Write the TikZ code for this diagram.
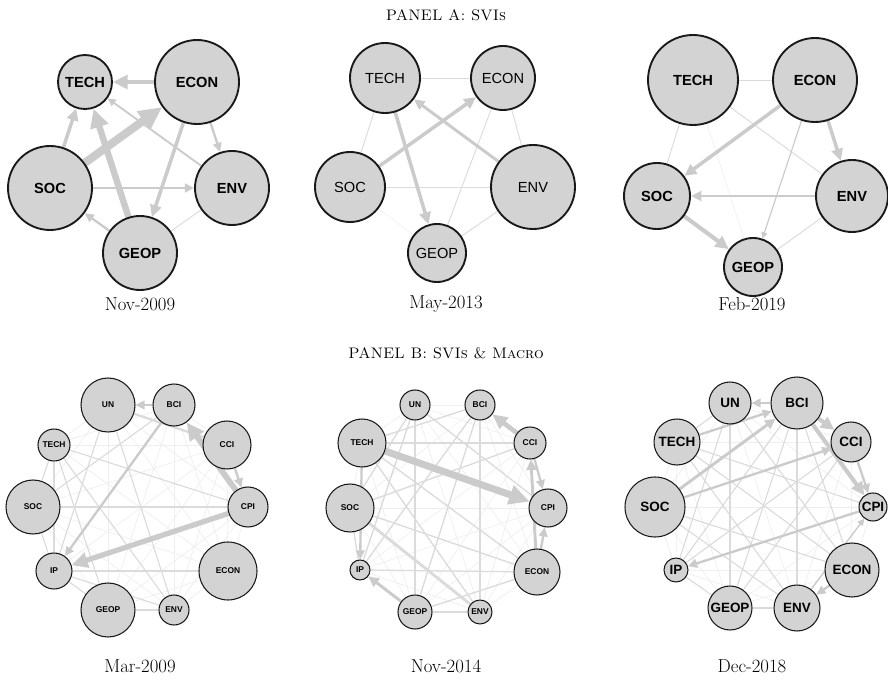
\documentclass[tikz,border=0pt]{standalone}
\usepackage{fontspec}
\newfontfamily\helv{Liberation Sans}
\usetikzlibrary{arrows.meta,backgrounds}
\definecolor{nodegray}{RGB}{211,211,211}
\definecolor{edgegray}{RGB}{203,203,203}
\definecolor{midgray}{RGB}{219,219,219}
\definecolor{faintgray}{RGB}{238,238,238}
\tikzset{
  var/.style={circle, draw=black!90, fill=nodegray, inner sep=0pt, minimum size=#1*0.06cm},
  varA/.style={var=#1, line width=1.6pt, font=\helv\bfseries\fontsize{12.5}{14}\selectfont},
  varAreg/.style={var=#1, line width=1.6pt, font=\helv\fontsize{12.5}{14}\selectfont},
  varB/.style={var=#1, line width=0.9pt, font=\helv\bfseries\fontsize{7.2}{8}\selectfont},
  varBbig/.style={var=#1, line width=0.9pt, font=\helv\bfseries\fontsize{11.5}{13}\selectfont},
  spill/.style={draw=edgegray, line width=#1, -{Triangle[length=3pt 2.4, width=3pt 2.2]}},
  tie/.style={draw=midgray, line width=#1},
  faint/.style={draw=faintgray, line width=0.6pt},
  caption/.style={font=\fontsize{16}{18}\selectfont},
  paneltitle/.style={font=\fontsize{13}{15}\selectfont\scshape\addfontfeature{LetterSpace=15}}
}
\begin{document}
\begin{tikzpicture}[x=0.03cm, y=-0.03cm]
	\useasboundingbox (0,0) rectangle (888,681);
	% Titles and dates:
	\node[paneltitle] (titleA) at (446,15) {PANEL A: SVIs};
	\node[paneltitle] (titleB) at (446,353) {PANEL B: SVIs \& Macro};
	\node[caption] (capA1) at (140,304) {Nov-2009};
	\node[caption] (capA2) at (446,304) {May-2013};
	\node[caption] (capA3) at (752,304) {Feb-2019};
	\node[caption] (capB1) at (140,666) {Mar-2009};
	\node[caption] (capB2) at (446,666) {Nov-2014};
	\node[caption] (capB3) at (752,666) {Dec-2018};
	% Panel A, Nov-2009:
	\node[varA=27] (a1TECH) at (85,82) {TECH};
	\node[varA=42] (a1ECON) at (197,82) {ECON};
	\node[varA=42] (a1SOC) at (50,188) {SOC};
	\node[varA=37] (a1ENV) at (232,188) {ENV};
	\node[varA=37] (a1GEOP) at (140,253) {GEOP};
	% Panel A, May-2013:
	\node[varAreg=35] (a2TECH) at (385,78) {TECH};
	\node[varAreg=32] (a2ECON) at (503,78) {ECON};
	\node[varAreg=35] (a2SOC) at (350,187) {SOC};
	\node[varAreg=42] (a2ENV) at (533,187) {ENV};
	\node[varAreg=29] (a2GEOP) at (437,253) {GEOP};
	% Panel A, Feb-2019:
	\node[varA=45] (a3TECH) at (693,80) {TECH};
	\node[varA=42] (a3ECON) at (815,80) {ECON};
	\node[varA=33] (a3SOC) at (657,196) {SOC};
	\node[varA=36] (a3ENV) at (852,196) {ENV};
	\node[varA=29] (a3GEOP) at (753,267) {GEOP};
	% Panel B, Mar-2009:
	\node[varB=27] (b1UN) at (108,405) {UN};
	\node[varB=21] (b1BCI) at (174,405) {BCI};
	\node[varB=24] (b1CCI) at (227,445) {CCI};
	\node[varB=20] (b1CPI) at (248,507) {CPI};
	\node[varB=29] (b1ECON) at (228,571) {ECON};
	\node[varB=15] (b1ENV) at (174,610) {ENV};
	\node[varB=27] (b1GEOP) at (108,610) {GEOP};
	\node[varB=18] (b1IP) at (54,571) {IP};
	\node[varB=27] (b1SOC) at (33,507) {SOC};
	\node[varB=16] (b1TECH) at (54,445) {TECH};
	% Panel B, Nov-2014:
	\node[varB=15] (b2UN) at (415,405) {UN};
	\node[varB=15] (b2BCI) at (480,405) {BCI};
	\node[varB=16] (b2CCI) at (530,443) {CCI};
	\node[varB=19] (b2CPI) at (548,508) {CPI};
	\node[varB=23] (b2ECON) at (537,572) {ECON};
	\node[varB=12] (b2ENV) at (480,612) {ENV};
	\node[varB=17] (b2GEOP) at (415,612) {GEOP};
	\node[varB=10] (b2IP) at (360,570) {IP};
	\node[varB=24] (b2SOC) at (350,508) {SOC};
	\node[varB=24] (b2TECH) at (362,443) {TECH};
	% Panel B, Dec-2018:
	\node[varBbig=21] (b3UN) at (730,403) {UN};
	\node[varBbig=26] (b3BCI) at (797,403) {BCI};
	\node[varBbig=20] (b3CCI) at (851,442) {CCI};
	\node[varBbig=14] (b3CPI) at (873,507) {CPI};
	\node[varBbig=27] (b3ECON) at (852,570) {ECON};
	\node[varBbig=23] (b3ENV) at (797,608) {ENV};
	\node[varBbig=22] (b3GEOP) at (730,608) {GEOP};
	\node[varBbig=12] (b3IP) at (676,570) {IP};
	\node[varBbig=30] (b3SOC) at (655,507) {SOC};
	\node[varBbig=23] (b3TECH) at (677,442) {TECH};
	\begin{scope}[on background layer]
	% Panel A links:
	\draw[tie=0.8pt] (a1GEOP) -- (a1ENV);
	\draw[spill=1.6pt] (a1ENV) -- (a1TECH);
	\draw[spill=2pt] (a1ECON) -- (a1ENV);
	\draw[spill=2pt] (a1SOC) -- (a1ENV);
	\draw[spill=2pt] (a1GEOP) -- (a1SOC);
	\draw[spill=3pt] (a1SOC) -- (a1TECH);
	\draw[spill=3pt] (a1ECON) -- (a1GEOP);
	\draw[spill=4pt] (a1ECON) -- (a1TECH);
	\draw[spill=5.5pt] (a1GEOP) -- (a1TECH);
	\draw[spill=7pt] (a1SOC) -- (a1ECON);
	\foreach \u/\v in {TECH/ECON, TECH/SOC, SOC/ENV, ECON/ENV, ECON/GEOP, ENV/GEOP}
		\draw[tie=0.8pt] (a2\u) -- (a2\v);
	\draw[tie=0.5pt, draw=faintgray] (a2SOC) -- (a2GEOP);
	\draw[spill=2.5pt] (a2ENV) -- (a2TECH);
	\draw[spill=3pt] (a2SOC) -- (a2ECON);
	\draw[spill=3pt] (a2TECH) -- (a2GEOP);
	\foreach \u/\v in {TECH/ECON, TECH/SOC, TECH/ENV, ENV/GEOP}
		\draw[tie=0.8pt] (a3\u) -- (a3\v);
	\draw[tie=0.5pt, draw=faintgray] (a3TECH) -- (a3GEOP);
	\draw[spill=1pt] (a3ECON) -- (a3GEOP);
	\draw[spill=2.5pt] (a3ENV) -- (a3SOC);
	\draw[spill=3pt] (a3ECON) -- (a3SOC);
	\draw[spill=3pt] (a3ECON) -- (a3ENV);
	\draw[spill=3.5pt] (a3SOC) -- (a3GEOP);
	% Panel B links:
	\foreach \p in {b1,b2,b3}
		\foreach \u [count=\i] in {UN,BCI,CCI,CPI,ECON,ENV,GEOP,IP,SOC,TECH}
			\foreach \v [count=\j] in {UN,BCI,CCI,CPI,ECON,ENV,GEOP,IP,SOC,TECH}
				{\ifnum\i<\j \draw[faint] (\p\u) -- (\p\v); \fi}
	\foreach \u/\v in {SOC/CPI, IP/ECON, TECH/ENV, TECH/GEOP, TECH/SOC, TECH/IP, UN/ENV, SOC/BCI, IP/ENV, GEOP/ENV, IP/GEOP, TECH/CPI, UN/IP, SOC/IP}
		\draw[tie=0.9pt] (b1\u) -- (b1\v);
	\draw[tie=2pt] (b1UN) -- (b1CCI);
	\draw[spill=2pt] (b1BCI) -- (b1UN);
	\draw[spill=2pt] (b1CCI) -- (b1CPI);
	\draw[spill=2pt] (b1BCI) -- (b1IP);
	\draw[spill=4.5pt] (b1CPI) -- (b1IP);
	\draw[spill=5pt] (b1CPI) -- (b1BCI);
	\foreach \u/\v in {TECH/BCI, TECH/CCI, TECH/ECON, SOC/CCI, SOC/ECON, UN/CPI, BCI/IP, BCI/GEOP, BCI/ENV, IP/ECON, GEOP/ENV, GEOP/ECON, UN/IP, UN/GEOP, SOC/UN, TECH/ENV, SOC/IP}
		\draw[tie=1.1pt] (b2\u) -- (b2\v);
	\draw[tie=2.5pt] (b2SOC) -- (b2ENV);
	\draw[spill=2pt] (b2TECH) -- (b2IP);
	\draw[spill=2.5pt] (b2GEOP) -- (b2IP);
	\draw[spill=2pt] (b2CCI) -- (b2CPI);
	\draw[spill=2pt] (b2ECON) -- (b2CPI);
	\draw[spill=2.5pt] (b2ECON) -- (b2CCI);
	\draw[spill=4pt] (b2CCI) -- (b2BCI);
	\draw[spill=6pt] (b2TECH) -- (b2CPI);
	\foreach \u/\v in {UN/GEOP, BCI/ENV, SOC/ECON, TECH/CPI, UN/ECON, BCI/ECON, BCI/IP, BCI/GEOP, TECH/ENV, SOC/ENV, IP/GEOP, TECH/UN, UN/IP, TECH/ECON, IP/CCI, GEOP/CCI}
		\draw[tie=0.9pt] (b3\u) -- (b3\v);
	\draw[tie=2pt] (b3ENV) -- (b3GEOP);
	\draw[spill=1.2pt] (b3ENV) -- (b3CPI);
	\draw[spill=2pt] (b3BCI) -- (b3UN);
	\draw[spill=2pt] (b3TECH) -- (b3BCI);
	\draw[spill=2.5pt] (b3SOC) -- (b3BCI);
	\draw[spill=2pt] (b3SOC) -- (b3CCI);
	\draw[spill=2pt] (b3CCI) -- (b3CPI);
	\draw[spill=2pt] (b3CPI) -- (b3IP);
	\draw[spill=2pt] (b3ECON) -- (b3ENV);
	\draw[spill=3.5pt] (b3BCI) -- (b3CCI);
	\draw[spill=3.5pt] (b3BCI) -- (b3CPI);
	\end{scope}
\end{tikzpicture}
\end{document}
